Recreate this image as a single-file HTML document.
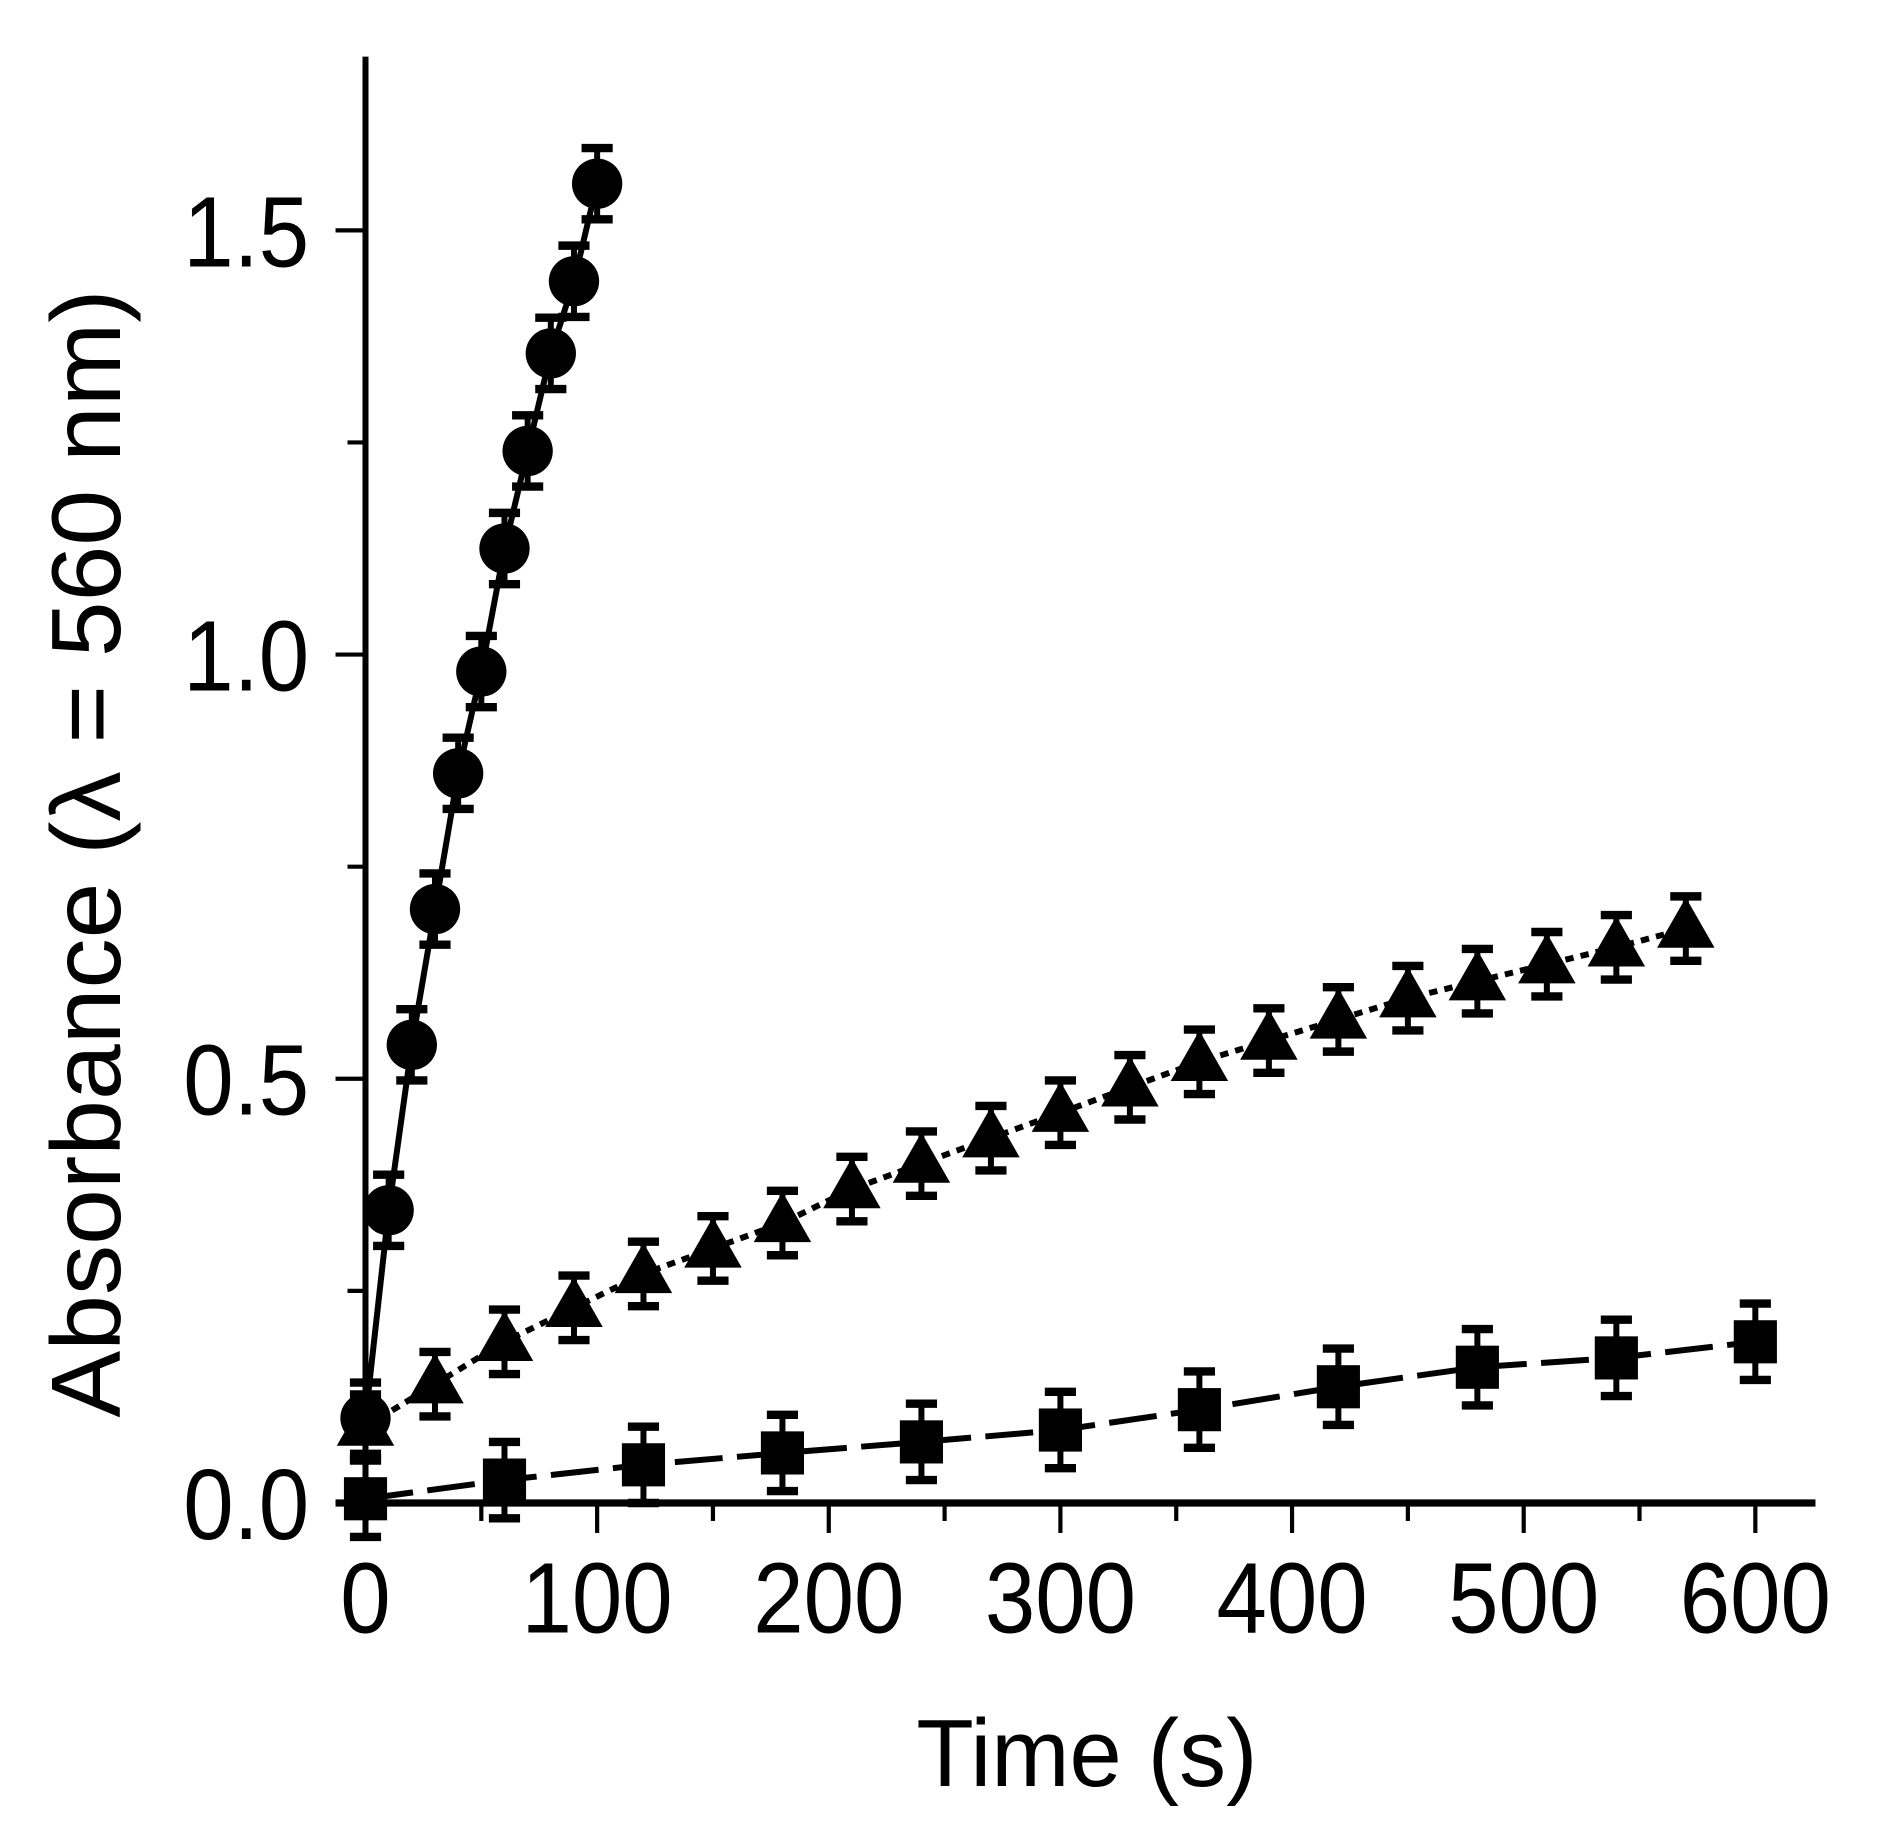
<!DOCTYPE html>
<html><head><meta charset="utf-8"><style>html,body{margin:0;padding:0;background:#fff}svg{display:block}</style></head>
<body>
<svg id="s" width="1879" height="1840" viewBox="0 0 1568 1535" xmlns="http://www.w3.org/2000/svg" font-family="Liberation Sans, Arial, sans-serif">
<rect width="1568" height="1535" fill="#fff"/>
<g id="g"></g>
<text x="907" y="1490" font-size="80" text-anchor="middle" transform="translate(907 0) scale(0.98 1) translate(-907 0)">Time (s)</text>
<text transform="translate(100 712) rotate(-90) scale(1.02 1)" font-size="82" text-anchor="middle">Absorbance (λ = 560 nm)</text>
</svg>
<script>
const g=document.getElementById('g');let h='';
const X=t=>305+t*1.933, Y=v=>1254-v*708;
h+=`<line x1="305" y1="47" x2="305" y2="1275" stroke="#000" stroke-width="5"/>`;
h+=`<line x1="280" y1="1254" x2="1515" y2="1254" stroke="#000" stroke-width="6"/>`;
for(let t=0;t<=600;t+=50){const M=t%100==0;h+=`<line x1="${X(t)}" y1="1254" x2="${X(t)}" y2="${M?1279:1269}" stroke="#000" stroke-width="3.5"/>`;
 if(M)h+=`<text x="${X(t)}" y="1362" font-size="84" text-anchor="middle" transform="translate(${X(t)} 0) scale(0.9 1) translate(${-X(t)} 0)">${t}</text>`;}
for(let v=0;v<=1.5;v+=0.25){const M=Math.abs(v*2-Math.round(v*2))<1e-6;const y=Y(v);h+=`<line x1="${M?280:290}" y1="${y}" x2="305" y2="${y}" stroke="#000" stroke-width="3.5"/>`;
 if(M)h+=`<text x="258" y="${y+30}" font-size="84" text-anchor="end" transform="translate(258 0) scale(0.9 1) translate(-258 0)">${v.toFixed(1)}</text>`;}
function series(ts,vs,err,dash,marker){
 let pts=ts.map((t,i)=>X(t)+','+Y(vs[i])).join(' ');
 h+=`<polyline points="${pts}" fill="none" stroke="#000" stroke-width="5" ${dash?`stroke-dasharray="${dash}"`:''}/>`;
 ts.forEach((t,i)=>{const x=X(t),y=Y(vs[i]),e=err*708;
  h+=`<line x1="${x}" y1="${y-e}" x2="${x}" y2="${y+e}" stroke="#000" stroke-width="5"/><line x1="${x-13}" y1="${y-e}" x2="${x+13}" y2="${y-e}" stroke="#000" stroke-width="7"/><line x1="${x-13}" y1="${y+e}" x2="${x+13}" y2="${y+e}" stroke="#000" stroke-width="7"/>`;
  h+=marker(x,y);});
}
series([0,10,20,30,40,50,60,70,80,90,100],[0.1,0.345,0.54,0.70,0.86,0.98,1.125,1.24,1.355,1.44,1.555],0.042,null,(x,y)=>`<circle cx="${x}" cy="${y}" r="21"/>`);
let tt=[],tv=[0.09,0.14,0.19,0.23,0.27,0.30,0.33,0.37,0.40,0.43,0.46,0.49,0.52,0.545,0.57,0.595,0.615,0.635,0.655,0.677];
for(let i=0;i<20;i++)tt.push(i*30);
series(tt,tv,0.038,"7 6",(x,y)=>`<polygon points="${x},${y-26} ${x-24},${y+16} ${x+24},${y+16}"/>`);
series([0,60,120,180,240,300,360,420,480,540,600],[0.005,0.027,0.045,0.059,0.072,0.086,0.11,0.137,0.16,0.171,0.19],0.045,"40 12",(x,y)=>`<rect x="${x-18}" y="${y-18}" width="36" height="36"/>`);
g.innerHTML=h;
</script>
</body></html>
